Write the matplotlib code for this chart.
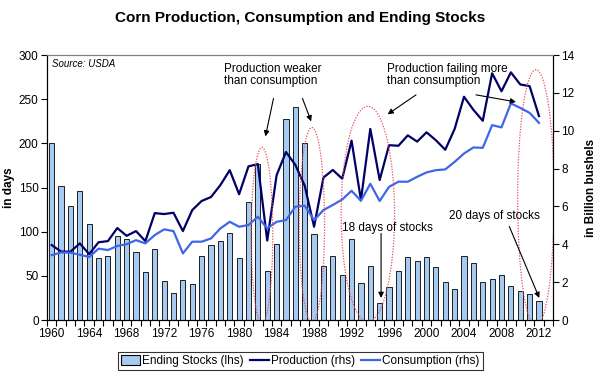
import matplotlib
matplotlib.use('Agg')
import matplotlib.pyplot as plt
from matplotlib.patches import Ellipse, Patch
from matplotlib.lines import Line2D
import numpy as np

plt.rcParams['font.family'] = ['Liberation Sans', 'DejaVu Sans']

years = list(range(1960, 2013))

# ending stocks in days of use (lhs)
stocks = [200, 152, 129, 146, 109, 70, 72, 95, 92, 77,
          54, 80, 44, 31, 45, 41, 72, 85, 90, 98,
          70, 134, 177, 55, 86, 228, 241, 200, 97, 61,
          72, 51, 92, 42, 61, 19, 37, 55, 71, 67,
          71, 60, 43, 35, 73, 65, 43, 47, 51, 38,
          33, 29, 21]

# billion bushels (rhs)
production = [3.96, 3.62, 3.61, 4.05, 3.48, 4.11, 4.17, 4.86, 4.45, 4.70,
              4.17, 5.65, 5.60, 5.67, 4.70, 5.81, 6.29, 6.50, 7.13, 7.92,
              6.65, 8.12, 8.24, 4.20, 7.65, 8.88, 8.20, 7.10, 4.93, 7.53,
              7.93, 7.47, 9.48, 6.34, 10.10, 7.40, 9.24, 9.21, 9.76, 9.43,
              9.92, 9.50, 9.00, 10.10, 11.80, 11.11, 10.53, 13.04, 12.09, 13.09,
              12.45, 12.36, 10.78]
consumption = [3.43, 3.57, 3.56, 3.45, 3.33, 3.77, 3.70, 3.91, 4.01, 4.22,
               4.05, 4.49, 4.79, 4.70, 3.52, 4.14, 4.14, 4.31, 4.84, 5.19,
               4.93, 5.02, 5.46, 4.84, 5.19, 5.28, 5.99, 6.04, 5.28, 5.81,
               6.08, 6.37, 6.83, 6.30, 7.20, 6.29, 7.04, 7.31, 7.31, 7.57,
               7.80, 7.92, 7.96, 8.36, 8.80, 9.12, 9.10, 10.30, 10.18, 11.45,
               11.21, 10.95, 10.42]

fig = plt.figure(figsize=(6.01, 3.85), dpi=100)
ax = fig.add_axes([0.0782, 0.1688, 0.842, 0.688])
ax2 = ax.twinx()

ax.bar(years, stocks, width=0.55, color='#A6CAF0', edgecolor='#000000', linewidth=0.6, zorder=2)
ax2.plot(years, production, color='#000066', lw=1.6, zorder=3)
ax2.plot(years, consumption, color='#3F66E8', lw=1.6, zorder=3)

ax.set_xlim(1959.5, 2013.5)
ax.set_ylim(0, 300)
ax2.set_ylim(0, 14)
ax.set_yticks(range(0, 301, 50))
ax2.set_yticks(range(0, 15, 2))
ax.set_xticks(range(1960, 2013, 4))
ax.set_xticks(np.arange(1959.5, 2014, 1), minor=True)
ax.tick_params(axis='x', which='major', length=0, labelsize=8.5, pad=6)
ax.tick_params(axis='x', which='minor', length=4, width=0.8, direction='out')
ax.tick_params(axis='y', length=4, width=0.8, labelsize=8.5, pad=2)
ax2.tick_params(axis='y', length=4, width=0.8, labelsize=8.5, pad=2)

for a in (ax, ax2):
    a.spines['top'].set_color('#808080')
    a.spines['top'].set_linewidth(0.8)
    for s in ('left', 'right', 'bottom'):
        a.spines[s].set_linewidth(0.8)

ax.set_ylabel('in days', fontsize=8.5, fontweight='bold')
ax.yaxis.set_label_coords(-0.064, 0.5)
ax2.set_ylabel('in Billion bushels', fontsize=8.5, fontweight='bold')
ax2.yaxis.set_label_coords(1.063, 0.5)

fig.text(0.5, 0.952, 'Corn Production, Consumption and Ending Stocks',
         ha='center', va='center', fontsize=11, fontweight='bold')
ax.text(0.01, 0.985, 'Source: USDA', transform=ax.transAxes, ha='left', va='top',
        fontsize=7, style='italic')

# red dotted ellipses (centre year, centre days, width years, height days)
ellipses = [(1982.44, 96, 2.3, 199), (1987.77, 108, 2.7, 220),
            (1993.74, 120, 5.7, 244), (2011.67, 138, 3.9, 291)]
for xc, yc, w, h in ellipses:
    e = Ellipse((xc, yc), w, h, transform=ax.transData, fill=False,
                edgecolor='#E8505A', linestyle=(0, (1, 1.2)), lw=0.9, zorder=4)
    ax2.add_patch(e)

ap = dict(arrowstyle='-|>', color='black', lw=0.8, mutation_scale=8, shrinkA=0, shrinkB=0)
ax2.text(1978.44, 291, 'Production weaker\nthan consumption', transform=ax.transData,
         ha='left', va='top', fontsize=8.5, linespacing=1.0, zorder=6)
ax2.text(1995.82, 291, 'Production failing more\nthan consumption', transform=ax.transData,
         ha='left', va='top', fontsize=8.5, linespacing=1.0, zorder=6)
ax2.text(1991.02, 111, '18 days of stocks', transform=ax.transData,
         ha='left', va='top', fontsize=8.5, zorder=6)
ax2.text(2002.43, 125, '20 days of stocks', transform=ax.transData,
         ha='left', va='top', fontsize=8.5, zorder=6)

arrows = [((1983.67, 251), (1982.81, 208)), ((1986.76, 251), (1987.69, 225)),
          ((1998.88, 255), (1995.85, 233)), ((2005.28, 255), (2009.54, 247)),
          ((1995.15, 98), (1995.15, 25)), ((2008.83, 106), (2012.03, 25))]
for start, end in arrows:
    ax2.annotate('', xy=end, xycoords=ax.transData, xytext=start,
                 textcoords=ax.transData, arrowprops=ap, zorder=6)

handles = [Patch(facecolor='#A6CAF0', edgecolor='black', linewidth=0.8),
           Line2D([], [], color='#000066', lw=1.6),
           Line2D([], [], color='#3F66E8', lw=1.6)]
labels = ['Ending Stocks (lhs)', 'Production (rhs)', 'Consumption (rhs)']
leg = fig.legend(handles, labels, loc='center', bbox_to_anchor=(0.5, 0.062), ncol=3,
                 fontsize=8.5, frameon=True, fancybox=False, edgecolor='black',
                 handlelength=1.6, handletextpad=0.2, columnspacing=0.5,
                 borderpad=0.25, handleheight=0.9)
leg.get_frame().set_linewidth(0.8)

fig.savefig('out.png', dpi=100)
